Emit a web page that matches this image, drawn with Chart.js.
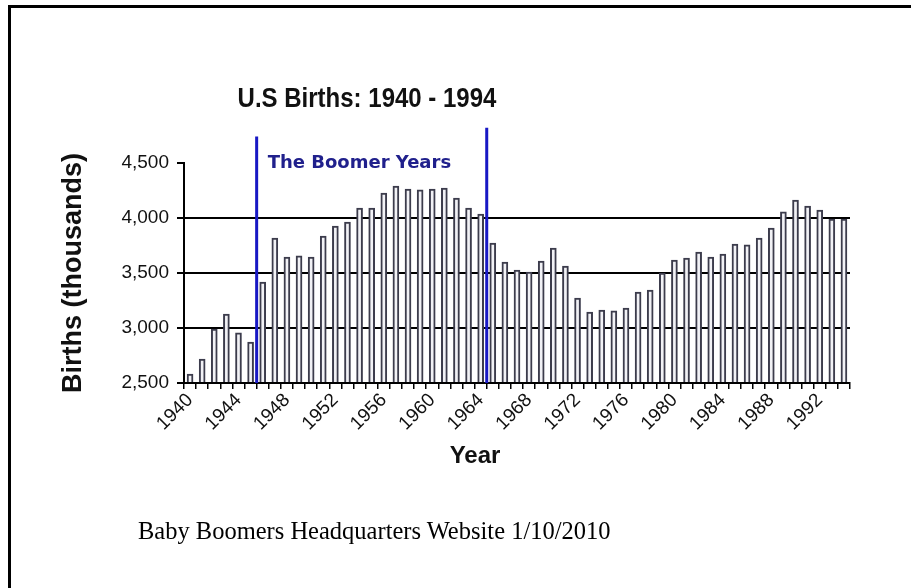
<!DOCTYPE html>
<html>
<head>
<meta charset="utf-8">
<script src="https://cdn.jsdelivr.net/npm/chart.js@4.4.1/dist/chart.umd.min.js"></script>
<style>
  body { margin: 0; background: #fff; }
  #frame { position: absolute; left: 8px; top: 5px; width: 1200px; height: 900px; border-top: 3px solid #000; border-left: 3px solid #000; }
  #myChart { position: absolute; left: 0; top: 0; }
  .txt { position: absolute; white-space: nowrap; color: #111; }
  #title { font: bold 24px "Liberation Sans", Arial, sans-serif; left: 367px; top: 98px; transform: translate(-50%, -50%) scaleY(1.15); }
  #xtitle { font: bold 24px "Liberation Sans", Arial, sans-serif; left: 475px; top: 455px; transform: translate(-50%, -50%); }
  #footer { font: 24.5px "Liberation Serif", "Times New Roman", serif; left: 138px; top: 517px; color: #000; }
</style>
</head>
<body>
<div id="frame"></div>
<canvas id="myChart" width="911" height="588"></canvas>
<div class="txt" id="title">U.S Births: 1940 - 1994</div>
<div class="txt" id="xtitle">Year</div>
<div class="txt" id="footer">Baby Boomers Headquarters Website 1/10/2010</div>
<script>
var years = ['1940','1941','1942','1943','1944','1945','1946','1947','1948','1949',
             '1950','1951','1952','1953','1954','1955','1956','1957','1958','1959',
             '1960','1961','1962','1963','1964','1965','1966','1967','1968','1969',
             '1970','1971','1972','1973','1974','1975','1976','1977','1978','1979',
             '1980','1981','1982','1983','1984','1985','1986','1987','1988','1989',
             '1990','1991','1992','1993','1994'];
// births in thousands
var births = [2580, 2718, 2991, 3127, 2955, 2873, 3418, 3818, 3645, 3655,
              3645, 3836, 3927, 3964, 4091, 4091, 4227, 4291, 4264, 4255,
              4264, 4273, 4182, 4091, 4036, 3773, 3600, 3527, 3509, 3609,
              3727, 3564, 3273, 3145, 3164, 3155, 3182, 3327, 3345, 3500,
              3618, 3636, 3691, 3645, 3673, 3764, 3755, 3818, 3909, 4055,
              4164, 4109, 4073, 3991, 3991];
var yTicks = [2500, 3000, 3500, 4000, 4500];
var boomStart = 6;   // 1946
var boomEnd = 25;    // 1965
var boomLabel = 'The Boomer Years';

var tickFont = { family: '"Liberation Sans", Arial, sans-serif', size: 19 };

// blue boomer lines + label
var boomerPlugin = {
    id: 'boomer',
    afterDatasetsDraw: function(chart) {
        var ctx = chart.ctx;
        var x = chart.scales.x, y = chart.scales.y;
        var x1 = (x.getPixelForValue(boomStart - 1) + x.getPixelForValue(boomStart)) / 2;
        var x2 = (x.getPixelForValue(boomEnd - 1) + x.getPixelForValue(boomEnd)) / 2;
        ctx.save();
        ctx.strokeStyle = '#1818c4';
        ctx.lineWidth = 3;
        ctx.beginPath();
        ctx.moveTo(x1, y.getPixelForValue(4740));
        ctx.lineTo(x1, y.bottom);
        ctx.moveTo(x2, y.getPixelForValue(4820));
        ctx.lineTo(x2, y.bottom);
        ctx.stroke();
        ctx.fillStyle = '#20208c';
        ctx.font = 'bold 18px "DejaVu Sans", Verdana, sans-serif';
        ctx.textBaseline = 'middle';
        ctx.fillText(boomLabel, x1 + 11, y.getPixelForValue(4500));
        ctx.restore();
    }
};

var myChart = document.getElementById('myChart').getContext('2d');
var chart = new Chart(myChart, {
    type: 'bar',
    data: {
        labels: years,
        datasets: [{
            label: 'Births',
            data: births,
            base: yTicks[0],
            backgroundColor: '#f2f2f6',
            borderColor: '#3c3c4c',
            borderWidth: 2,
            barThickness: 6
        }]
    },
    options: {
        responsive: false,
        animation: false,
        layout: { padding: { left: 53, right: 61, top: 163, bottom: 105 } },
        plugins: {
            legend: { display: false },
            tooltip: { enabled: false }
        },
        scales: {
            x: {
                afterFit: function(scale) { scale.height = 100; },
                grid: { drawOnChartArea: false, color: '#000', tickLength: 6, lineWidth: 1.5 },
                border: { color: '#000', width: 2 },
                ticks: {
                    autoSkip: false,
                    minRotation: 45,
                    maxRotation: 45,
                    color: '#111',
                    font: tickFont,
                    padding: 0,
                    callback: function(val, idx) { return idx % 4 === 0 ? years[idx] : ''; }
                }
            },
            y: {
                min: yTicks[0],
                max: yTicks[yTicks.length - 1],
                afterFit: function(scale) { scale.width = 131; },
                grid: {
                    color: function(c) { return c.tick.value === 4500 ? 'rgba(0,0,0,0)' : '#000'; },
                    tickColor: '#000',
                    tickLength: 7,
                    lineWidth: 2
                },
                border: { color: '#000', width: 2 },
                ticks: {
                    stepSize: 500,
                    color: '#111',
                    font: tickFont,
                    padding: 8,
                    callback: function(v) { return v.toLocaleString('en-US'); }
                },
                title: {
                    display: true,
                    text: 'Births (thousands)',
                    color: '#111',
                    font: { family: '"Liberation Sans", Arial, sans-serif', size: 27, weight: 'bold' }
                }
            }
        }
    },
    plugins: [boomerPlugin]
});
</script>
</body>
</html>
